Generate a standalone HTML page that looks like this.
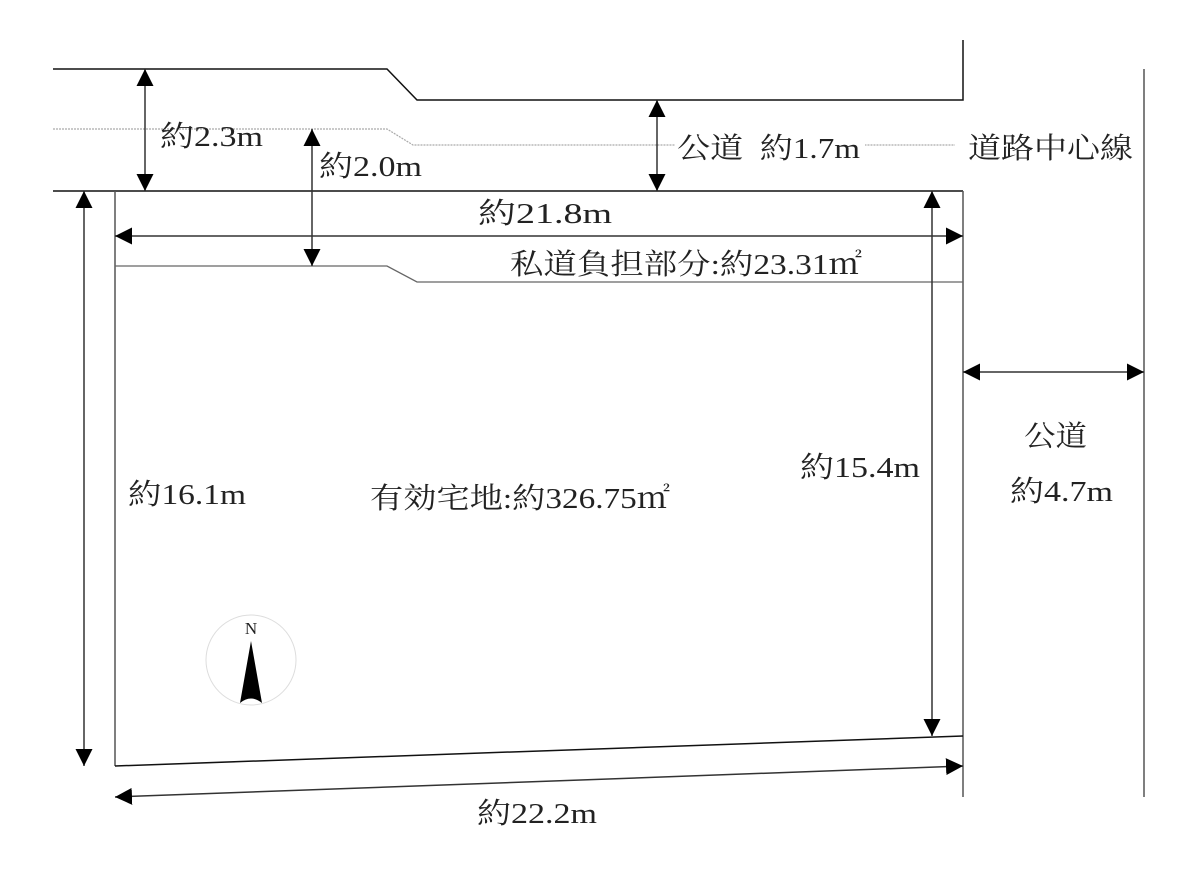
<!DOCTYPE html>
<html><head><meta charset="utf-8"><style>
html,body{margin:0;padding:0;background:#fff;}
svg text{font-family:"Liberation Serif","Noto Serif CJK SC",serif;font-size:29px;fill:#222;}
</style></head><body>
<svg width="1200" height="865" viewBox="0 0 1200 865" xmlns="http://www.w3.org/2000/svg">
<defs>
<marker id="a" viewBox="0 0 10 10" refX="10" refY="5" markerWidth="17" markerHeight="17" markerUnits="userSpaceOnUse" orient="auto-start-reverse"><path d="M0,0 L10,5 L0,10 z" fill="#000"/></marker>
</defs>
<g fill="none" stroke="#111" stroke-width="1.5">
<polyline points="53,69 387,69 417,100 963,100 963,40"/>
<line x1="53" y1="191" x2="963" y2="191"/>
<line x1="963" y1="191" x2="963" y2="797" stroke="#555"/>
<line x1="1144" y1="69" x2="1144" y2="797" stroke="#555"/>
<line x1="115" y1="191" x2="115" y2="766" stroke="#555"/>
<line x1="115" y1="766" x2="963" y2="736"/>
</g>
<polyline points="53,129 387,129 413,145 955,145" fill="none" stroke="#aaa" stroke-width="1.2" stroke-dasharray="2,1"/>
<polyline points="115,266 387,266 417,282 963,282" fill="none" stroke="#666" stroke-width="1.3"/>
<g stroke="#333" stroke-width="1.5" marker-start="url(#a)" marker-end="url(#a)">
<line x1="145" y1="69" x2="145" y2="191"/>
<line x1="312" y1="129" x2="312" y2="266"/>
<line x1="657" y1="100" x2="657" y2="191"/>
<line x1="115" y1="236" x2="963" y2="236"/>
<line x1="84" y1="191" x2="84" y2="766"/>
<line x1="932" y1="191" x2="932" y2="736"/>
<line x1="963" y1="372" x2="1144" y2="372"/>
<line x1="115" y1="797" x2="963" y2="766"/>
</g>
<rect x="675" y="130" width="190" height="30" fill="#fff"/>
<text x="160" y="146" textLength="103" lengthAdjust="spacingAndGlyphs">約2.3m</text>
<text x="319" y="176" textLength="103" lengthAdjust="spacingAndGlyphs">約2.0m</text>
<text x="677" y="158" textLength="183" lengthAdjust="spacingAndGlyphs">公道&#160;&#160;約1.7m</text>
<text x="968" y="158" textLength="165" lengthAdjust="spacingAndGlyphs">道路中心線</text>
<text x="478" y="223" textLength="134" lengthAdjust="spacingAndGlyphs">約21.8m</text>
<text x="510" y="274" textLength="352" lengthAdjust="spacingAndGlyphs">私道負担部分:約23.31㎡</text>
<text x="128" y="504" textLength="118" lengthAdjust="spacingAndGlyphs">約16.1m</text>
<text x="370" y="508" textLength="300" lengthAdjust="spacingAndGlyphs">有効宅地:約326.75㎡</text>
<text x="800" y="477" textLength="120" lengthAdjust="spacingAndGlyphs">約15.4m</text>
<text x="1024" y="446" textLength="63" lengthAdjust="spacingAndGlyphs">公道</text>
<text x="1010" y="501" textLength="103" lengthAdjust="spacingAndGlyphs">約4.7m</text>
<text x="477" y="823" textLength="120" lengthAdjust="spacingAndGlyphs">約22.2m</text>
<circle cx="251" cy="660" r="45" fill="none" stroke="#ddd" stroke-width="1"/>
<text x="251" y="634" text-anchor="middle" style="font-size:17px">N</text>
<path d="M251,641 L262,703 Q251,694 240,703 Z" fill="#000"/>
</svg>
</body></html>
